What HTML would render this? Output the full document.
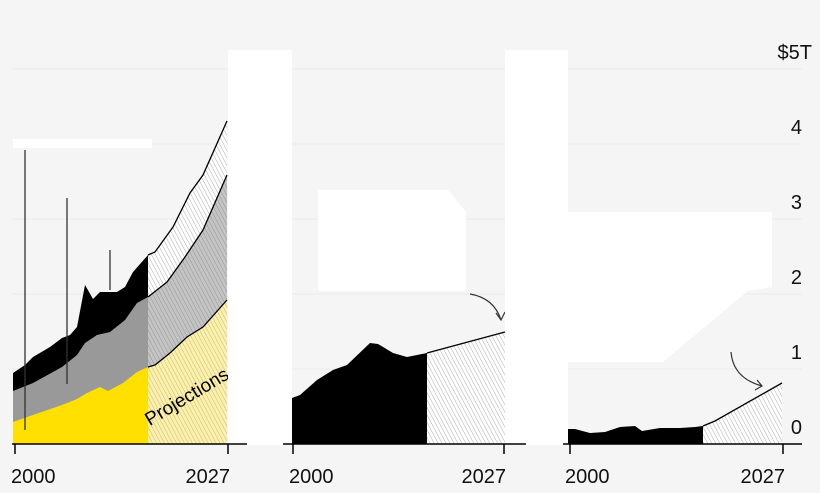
<!DOCTYPE html>
<html><head><meta charset="utf-8"><style>
html,body{margin:0;padding:0;background:#f5f5f5;}
svg{display:block;font-family:"Liberation Sans",sans-serif;}
</style></head><body>
<svg width="820" height="493" viewBox="0 0 820 493" xmlns="http://www.w3.org/2000/svg">
<defs>
<pattern id="hw" patternUnits="userSpaceOnUse" width="3.5" height="4" patternTransform="rotate(-28)">
<rect width="4" height="4" fill="#fff"/><line x1="0" y1="0" x2="0" y2="4" stroke="#888" stroke-width="0.7"/></pattern>
<pattern id="hg" patternUnits="userSpaceOnUse" width="3.5" height="4" patternTransform="rotate(-28)">
<rect width="4" height="4" fill="#c4c4c4"/><line x1="0" y1="0" x2="0" y2="4" stroke="#808080" stroke-width="0.7"/></pattern>
<pattern id="hy" patternUnits="userSpaceOnUse" width="3.5" height="4" patternTransform="rotate(-28)">
<rect width="4" height="4" fill="#fdf0a8"/><line x1="0" y1="0" x2="0" y2="4" stroke="#a8a080" stroke-width="0.7"/></pattern>
</defs>
<rect width="820" height="493" fill="#f5f5f5"/>
<g stroke="#ebebeb" stroke-width="1">
<line x1="13" y1="69" x2="802" y2="69"/><line x1="13" y1="144" x2="802" y2="144"/>
<line x1="13" y1="219" x2="802" y2="219"/><line x1="13" y1="294" x2="802" y2="294"/>
<line x1="13" y1="369" x2="802" y2="369"/>
</g>
<!-- Panel 1 -->
<path d="M13,373 L25,365 33,357 50,347 62,338 70,335 77,327 85,285 93,299 100,292 117,292 125,287 133,272 148,255 L148,444 13,444Z" fill="#000"/>
<path d="M148,255 L155,252 173,227 190,193 203,175 227,121 L227,444 148,444Z" fill="url(#hw)"/>
<path d="M13,391 L33,383 62,367 77,355 85,343 97,335 110,332 125,320 137,303 148,297 L148,444 13,444Z" fill="#999"/>
<path d="M148,297 L167,282 185,257 203,230 227,175 L227,444 148,444Z" fill="url(#hg)"/>
<path d="M13,422 L33,415 62,405 77,399 87,393 100,387 108,391 123,383 137,372 148,367 L148,444 13,444Z" fill="#ffe000"/>
<path d="M148,367 L155,365 170,353 187,337 203,327 227,300 L227,444 148,444Z" fill="url(#hy)"/>
<g fill="none" stroke="#000" stroke-width="1.3">
<path d="M148,255 L155,252 173,227 190,193 203,175 227,121"/>
<path d="M148,297 L167,282 185,257 203,230 227,175"/>
<path d="M148,367 L155,365 170,353 187,337 203,327 227,300"/>
</g>
<rect x="13" y="139" width="139" height="9" fill="#fff"/>
<g stroke="#333" stroke-width="1.3">
<line x1="25" y1="150" x2="25" y2="430"/><line x1="67" y1="198" x2="67" y2="384"/><line x1="110" y1="250" x2="110" y2="290"/>
</g>
<text x="190" y="402" font-size="19" text-anchor="middle" transform="rotate(-31 190 402)">Projections</text>
<rect x="228" y="50" width="64" height="395" fill="#fff"/>
<!-- Panel 2 -->
<path d="M292,398 L300,395 317,380 333,370 347,365 370,343 378,344 393,353 407,357 427,353 L427,444 292,444Z" fill="#000"/>
<path d="M427,353 L505,332 L505,444 427,444Z" fill="url(#hw)"/>
<path d="M427,353 L505,332" fill="none" stroke="#000" stroke-width="1.3"/>
<path d="M318,190 L448,190 L466,212 L466,291 L318,291Z" fill="#fff"/>
<path d="M470,294 Q494,298 501,320 M496,313 L501,320 L505,312" fill="none" stroke="#333" stroke-width="1.2"/>
<rect x="505" y="50" width="63" height="395" fill="#fff"/>
<!-- Panel 3 -->
<path d="M568,429 L575,429 590,433 605,432 620,427 635,426 642,431 660,428 680,428 695,427 703,426 L703,444 568,444Z" fill="#000"/>
<path d="M703,426 L715,421 782,383 L782,444 703,444Z" fill="url(#hw)"/>
<path d="M703,426 L715,421 782,383" fill="none" stroke="#000" stroke-width="1.3"/>
<path d="M567,212 L772,212 L772,287 L748,291 L663,362 L567,362Z" fill="#fff"/>
<path d="M731,352 Q733,378 762,386 M755,390 L762,386 L757,380" fill="none" stroke="#333" stroke-width="1.2"/>
<!-- axes -->
<g stroke="#000" stroke-width="1.5">
<line x1="12" y1="444" x2="247" y2="444"/><line x1="283" y1="444" x2="526" y2="444"/><line x1="563" y1="444" x2="802" y2="444"/>
<line x1="15" y1="444" x2="15" y2="454"/><line x1="228" y1="444" x2="228" y2="454"/>
<line x1="293" y1="444" x2="293" y2="454"/><line x1="504" y1="444" x2="504" y2="454"/>
<line x1="570" y1="444" x2="570" y2="454"/><line x1="783" y1="444" x2="783" y2="454"/>
</g>
<g font-size="20" fill="#111">
<text x="11" y="483">2000</text><text x="230" y="483" text-anchor="end">2027</text>
<text x="289" y="483">2000</text><text x="506" y="483" text-anchor="end">2027</text>
<text x="565" y="483">2000</text><text x="785" y="483" text-anchor="end">2027</text>
<text x="812" y="59" text-anchor="end">$5T</text>
<text x="802" y="134" text-anchor="end">4</text>
<text x="802" y="209" text-anchor="end">3</text>
<text x="802" y="284" text-anchor="end">2</text>
<text x="802" y="359" text-anchor="end">1</text>
<text x="802" y="434" text-anchor="end">0</text>
</g>
</svg>
</body></html>
